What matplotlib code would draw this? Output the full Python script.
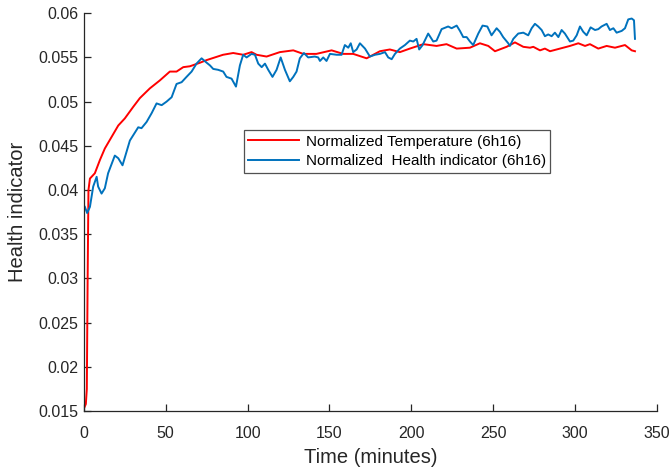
import numpy as np
import matplotlib
matplotlib.use('Agg')
import matplotlib.pyplot as plt

# normalized temperature (red)
tempTime = [0.5, 1.2, 1.8, 2.3, 2.8, 3.7, 6.7, 9.8, 12.8, 16.9, 21, 25, 30.1, 34.2,
            40.3, 46.4, 52.5, 56.6, 60.7, 64.8, 70.9, 75, 85, 91.2, 97.3, 102.4,
            105.5, 111.6, 119.7, 127.9, 134, 138.1, 142, 151.3, 158.4, 164.5,
            172.7, 180.8, 186.9, 193, 199.1, 207.3, 215.4, 221.5, 227.7, 235.8,
            241.9, 247, 251.1, 258.2, 263.3, 268.4, 272.5, 274.5, 278.6, 281.6,
            284.7, 290.8, 296.9, 302, 306.1, 309.1, 314.2, 319.3, 324.4, 330.5,
            334.6, 336.6]
tempValue = [0.0155, 0.0158, 0.0175, 0.030, 0.040, 0.0413, 0.0419, 0.0434, 0.0447,
             0.0460, 0.0473, 0.0481, 0.0494, 0.0504, 0.0515, 0.0524, 0.0534,
             0.0534, 0.0539, 0.0540, 0.0544, 0.0547, 0.0553, 0.0555, 0.0553,
             0.0556, 0.0553, 0.0551, 0.0556, 0.0558, 0.0554, 0.0554, 0.0554,
             0.0558, 0.0554, 0.0554, 0.0549, 0.0557, 0.0559, 0.0556, 0.0560,
             0.0565, 0.0563, 0.0565, 0.0560, 0.0561, 0.0566, 0.0563, 0.0557,
             0.0562, 0.0567, 0.0562, 0.0561, 0.0562, 0.0558, 0.0560, 0.0557,
             0.0560, 0.0563, 0.0566, 0.0563, 0.0565, 0.0560, 0.0563, 0.0561,
             0.0564, 0.0558, 0.0557]

# normalized health indicator (blue)
hiTime = [0.6, 2, 3.7, 5.7, 7.8, 8.7, 10.8, 12.8, 14.8, 18.9, 21, 23.6, 28.1, 33.2,
          35.2, 38.3, 41.4, 44.4, 47.5, 50.5, 53.6, 56.6, 59.7, 62.7, 65.8, 68.8,
          71.9, 75, 77, 79, 82, 85.1, 87.1, 90.2, 92.9, 95.3, 97.3, 99.4, 102.4,
          104.5, 106.5, 108.6, 110.6, 112.6, 115.2, 117.7, 120.2, 122.8, 125.8,
          127.9, 129.9, 131.9, 134.4, 137, 141, 143.1, 144.2, 146.2, 148.2, 150.3,
          154.4, 157.4, 159.4, 161.5, 163, 164.5, 166.6, 168.6, 171.7, 174.7,
          177.8, 180.8, 183.9, 185.9, 188, 190, 193, 196.1, 199.1, 201.2, 203.2,
          204.8, 206.9, 210.3, 213.4, 215.4, 218.5, 222.5, 224.6, 227.7, 229.7,
          231.7, 233.8, 235.8, 237.8, 240.9, 243.5, 246.4, 249, 252.1, 254.1,
          256.1, 259.2, 260.2, 262.3, 265.3, 268.4, 271.4, 273.5, 275.5, 277.5,
          279.6, 281.6, 283.6, 285.7, 287.7, 289.8, 291.8, 293.8, 296.9, 298.9,
          301, 303, 305, 307.1, 309.5, 312.2, 314.2, 316.2, 319.3, 321.3, 323.4,
          325.4, 328.5, 330.5, 332.5, 334.6, 336, 336.6]
hiValue = [0.0381, 0.0374, 0.0381, 0.0404, 0.0415, 0.0404, 0.0396, 0.0402, 0.0419,
           0.0439, 0.0436, 0.0428, 0.0456, 0.0471, 0.0470, 0.0477, 0.0487, 0.0498,
           0.0496, 0.0500, 0.0505, 0.0520, 0.0522, 0.0528, 0.0534, 0.0543, 0.0549,
           0.0544, 0.0541, 0.0537, 0.0536, 0.0534, 0.0528, 0.0526, 0.0517, 0.0541,
           0.0553, 0.0550, 0.0554, 0.0553, 0.0543, 0.0539, 0.0543, 0.0536, 0.0528,
           0.0536, 0.0550, 0.0536, 0.0523, 0.0528, 0.0534, 0.0549, 0.0555, 0.0550,
           0.0551, 0.0550, 0.0546, 0.0550, 0.0546, 0.0554, 0.0553, 0.0553, 0.0564,
           0.0561, 0.0566, 0.0556, 0.0559, 0.0566, 0.0560, 0.0551, 0.0553, 0.0554,
           0.0556, 0.0550, 0.0548, 0.0554, 0.0560, 0.0564, 0.0569, 0.0568, 0.0571,
           0.0559, 0.0564, 0.0577, 0.0568, 0.0569, 0.0582, 0.0585, 0.0583, 0.0586,
           0.0580, 0.0573, 0.0573, 0.0568, 0.0564, 0.0577, 0.0586, 0.0585, 0.0575,
           0.0583, 0.0579, 0.0573, 0.0566, 0.0563, 0.0571, 0.0577, 0.0578, 0.0575,
           0.0583, 0.0588, 0.0585, 0.0581, 0.0574, 0.0576, 0.0574, 0.0578, 0.0573,
           0.0581, 0.0577, 0.0568, 0.0569, 0.0575, 0.0585, 0.0579, 0.0575, 0.0584,
           0.0581, 0.0582, 0.0585, 0.0588, 0.0581, 0.0583, 0.0578, 0.0580, 0.0583,
           0.0593, 0.0594, 0.0592, 0.0571]

xTicks = [0, 50, 100, 150, 200, 250, 300, 350]
yTicks = [0.015, 0.02, 0.025, 0.03, 0.035, 0.04, 0.045, 0.05, 0.055, 0.06]
yTickLabels = ['0.015', '0.02', '0.025', '0.03', '0.035', '0.04', '0.045',
               '0.05', '0.055', '0.06']

plt.rcParams['font.family'] = ['Liberation Sans', 'DejaVu Sans']
axColor = '#262626'

fig = plt.figure(figsize=(6.71, 4.72), dpi=100)
ax = fig.add_axes([0.125, 0.129, 0.854, 0.843])

ax.plot(tempTime, tempValue, color='#ff0000', lw=1.4,
        label='Normalized Temperature (6h16)')
ax.plot(hiTime, hiValue, color='#0072BD', lw=1.4,
        label='Normalized  Health indicator (6h16)')

ax.set_xlim(0, 350)
ax.set_ylim(0.015, 0.06)
ax.set_xticks(xTicks)
ax.set_yticks(yTicks)
ax.set_yticklabels(yTickLabels)

ax.spines['top'].set_visible(False)
ax.spines['right'].set_visible(False)
for s in ['left', 'bottom']:
    ax.spines[s].set_color(axColor)
    ax.spines[s].set_linewidth(0.9)
ax.tick_params(direction='in', length=5, width=0.9, color=axColor,
               labelcolor=axColor, labelsize=11.5)
ax.tick_params(axis='y', pad=4)
ax.tick_params(axis='x', pad=11)

ax.set_xlabel('Time (minutes)', fontsize=14.5, color=axColor, labelpad=5)
ax.set_ylabel('Health indicator', fontsize=14.5, color=axColor, labelpad=8)

leg = ax.legend(loc='upper left', bbox_to_anchor=(0.279, 0.706), fontsize=11,
                frameon=True, fancybox=False, handlelength=3.3, handletextpad=0.45,
                borderpad=0.3, labelspacing=0.35, borderaxespad=0)
leg.get_frame().set_edgecolor(axColor)
leg.get_frame().set_linewidth(0.9)
for t in leg.get_texts():
    t.set_color('#000000')

fig.savefig('out.png', dpi=100)
